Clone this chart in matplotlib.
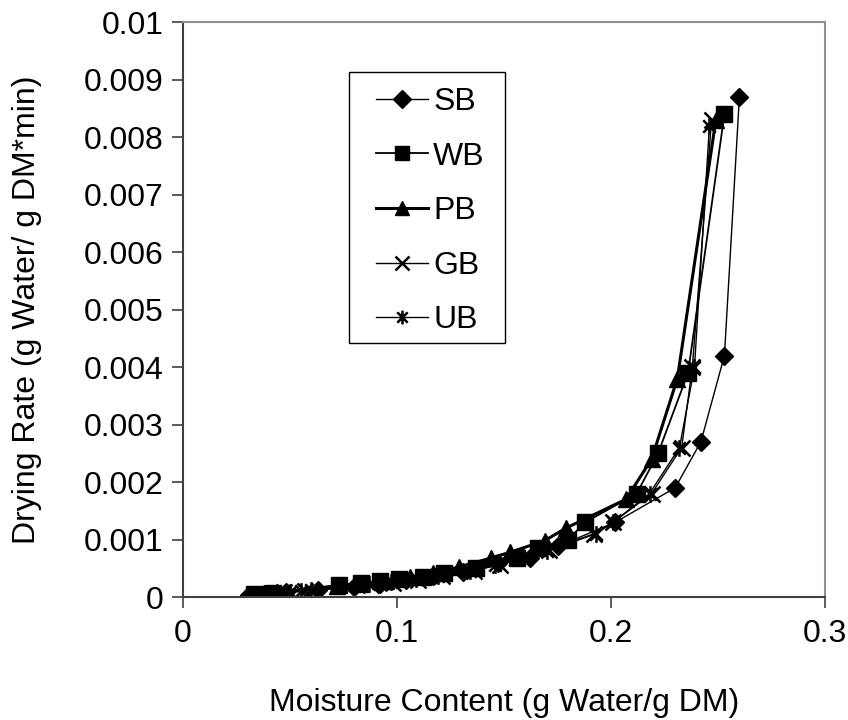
import numpy as np
import matplotlib
matplotlib.use('Agg')
from matplotlib import pyplot as plt
from matplotlib.path import Path
from matplotlib.patches import Rectangle

# moisture content (g water / g DM) and drying rate (g water / g DM*min)
sb_x = [0.260, 0.253, 0.242, 0.230, 0.202, 0.175, 0.162, 0.147, 0.131, 0.117, 0.104, 0.092, 0.080, 0.063, 0.048, 0.038, 0.031]
sb_y = [0.0087, 0.0042, 0.0027, 0.0019, 0.0013, 0.00088, 0.00068, 0.00059, 0.00043, 0.00036, 0.00029, 0.00023, 0.00018, 0.00012, 0.00008, 0.00006, 0.00004]

wb_x = [0.253, 0.236, 0.222, 0.212, 0.188, 0.180, 0.166, 0.156, 0.137, 0.122, 0.112, 0.101, 0.092, 0.083, 0.073, 0.042, 0.033]
wb_y = [0.0084, 0.0039, 0.0025, 0.0018, 0.0013, 0.0010, 0.00085, 0.00067, 0.0005, 0.00041, 0.00035, 0.00031, 0.00027, 0.00024, 0.00021, 0.00007, 0.00005]

pb_x = [0.249, 0.231, 0.219, 0.207, 0.179, 0.169, 0.153, 0.144, 0.129, 0.117, 0.106, 0.095, 0.083, 0.072, 0.043, 0.035]
pb_y = [0.0083, 0.0038, 0.0024, 0.0017, 0.0012, 0.00098, 0.00078, 0.00068, 0.00052, 0.00042, 0.00034, 0.00028, 0.00023, 0.00019, 0.00007, 0.00005]

gb_x = [0.247, 0.238, 0.233, 0.219, 0.201, 0.192, 0.171, 0.160, 0.148, 0.136, 0.121, 0.110, 0.098, 0.088, 0.057, 0.047, 0.037]
gb_y = [0.0083, 0.0040, 0.0026, 0.0018, 0.0013, 0.0011, 0.00082, 0.0007, 0.00056, 0.00046, 0.00037, 0.0003, 0.00025, 0.00021, 0.0001, 0.00008, 0.00006]

ub_x = [0.246, 0.239, 0.232, 0.218, 0.201, 0.193, 0.170, 0.159, 0.146, 0.134, 0.119, 0.109, 0.097, 0.087, 0.060, 0.055, 0.050]
ub_y = [0.0082, 0.0040, 0.0026, 0.0018, 0.0013, 0.0011, 0.0008, 0.00069, 0.00055, 0.00045, 0.00037, 0.00031, 0.00026, 0.00022, 0.00013, 0.00011, 0.00009]

x_ticks = [0, 0.1, 0.2, 0.3]
x_labels = ['0', '0.1', '0.2', '0.3']
y_ticks = [0, 0.001, 0.002, 0.003, 0.004, 0.005, 0.006, 0.007, 0.008, 0.009, 0.01]
y_labels = ['0', '0.001', '0.002', '0.003', '0.004', '0.005', '0.006', '0.007', '0.008', '0.009', '0.01']

# excel style asterisk: x plus a vertical bar
asterisk = Path(
    [(0, -1), (0, 1), (-0.75, -0.75), (0.75, 0.75), (-0.75, 0.75), (0.75, -0.75)],
    [Path.MOVETO, Path.LINETO, Path.MOVETO, Path.LINETO, Path.MOVETO, Path.LINETO],
)

plt.rcParams['font.family'] = ['Liberation Sans', 'DejaVu Sans']

fig = plt.figure(figsize=(8.48, 7.2), dpi=100)
ax = fig.add_axes([0.2158, 0.1708, 0.7571, 0.7986])

ax.plot(sb_x, sb_y, color='black', lw=1.0, marker='D', ms=9.5, label='SB')
ax.plot(wb_x, wb_y, color='black', lw=1.3, marker='s', ms=12, label='WB')
ax.plot(pb_x, pb_y, color='black', lw=2.2, marker='^', ms=12, label='PB')
ax.plot(gb_x, gb_y, color='black', lw=1.0, marker='x', ms=11, mew=1.8, label='GB')
ax.plot(ub_x, ub_y, color='black', lw=1.0, marker=asterisk, ms=12, mew=1.8, label='UB')

ax.set_xlim(0, 0.3)
ax.set_ylim(0, 0.01)
ax.set_xticks(x_ticks)
ax.set_xticklabels(x_labels)
ax.set_yticks(y_ticks)
ax.set_yticklabels(y_labels)
ax.tick_params(axis='both', labelsize=23, direction='out', length=8, width=1.2, color='#404040')
ax.tick_params(axis='x', pad=8)
ax.tick_params(axis='y', pad=6)

for side in ['top', 'right']:
    ax.spines[side].set_color('#909090')
    ax.spines[side].set_linewidth(1.5)
for side in ['left', 'bottom']:
    ax.spines[side].set_color('#404040')
    ax.spines[side].set_linewidth(1.5)

ax.set_xlabel('Moisture Content (g Water/g DM)', fontsize=23, labelpad=28)
ax.set_ylabel('Drying Rate (g Water/ g DM*min)', fontsize=23, labelpad=30)

# legend entries without frame, box drawn separately (excel-like padding)
leg = ax.legend(loc='upper left', bbox_to_anchor=(0.3006, 0.887), fontsize=23,
                frameon=False, labelspacing=0.77, handlelength=1.63,
                handletextpad=0.16, borderpad=0, borderaxespad=0)
for handle, size in zip(leg.legend_handles, [9, 10, 10, 10, 10]):
    handle.set_markersize(size)
ax.add_patch(Rectangle((0.2586, 0.4417), 0.2430, 0.4713, transform=ax.transAxes,
                       facecolor='none', edgecolor='black', lw=1.0, zorder=5))

fig.savefig('out.png', dpi=100)
plt.close(fig)
